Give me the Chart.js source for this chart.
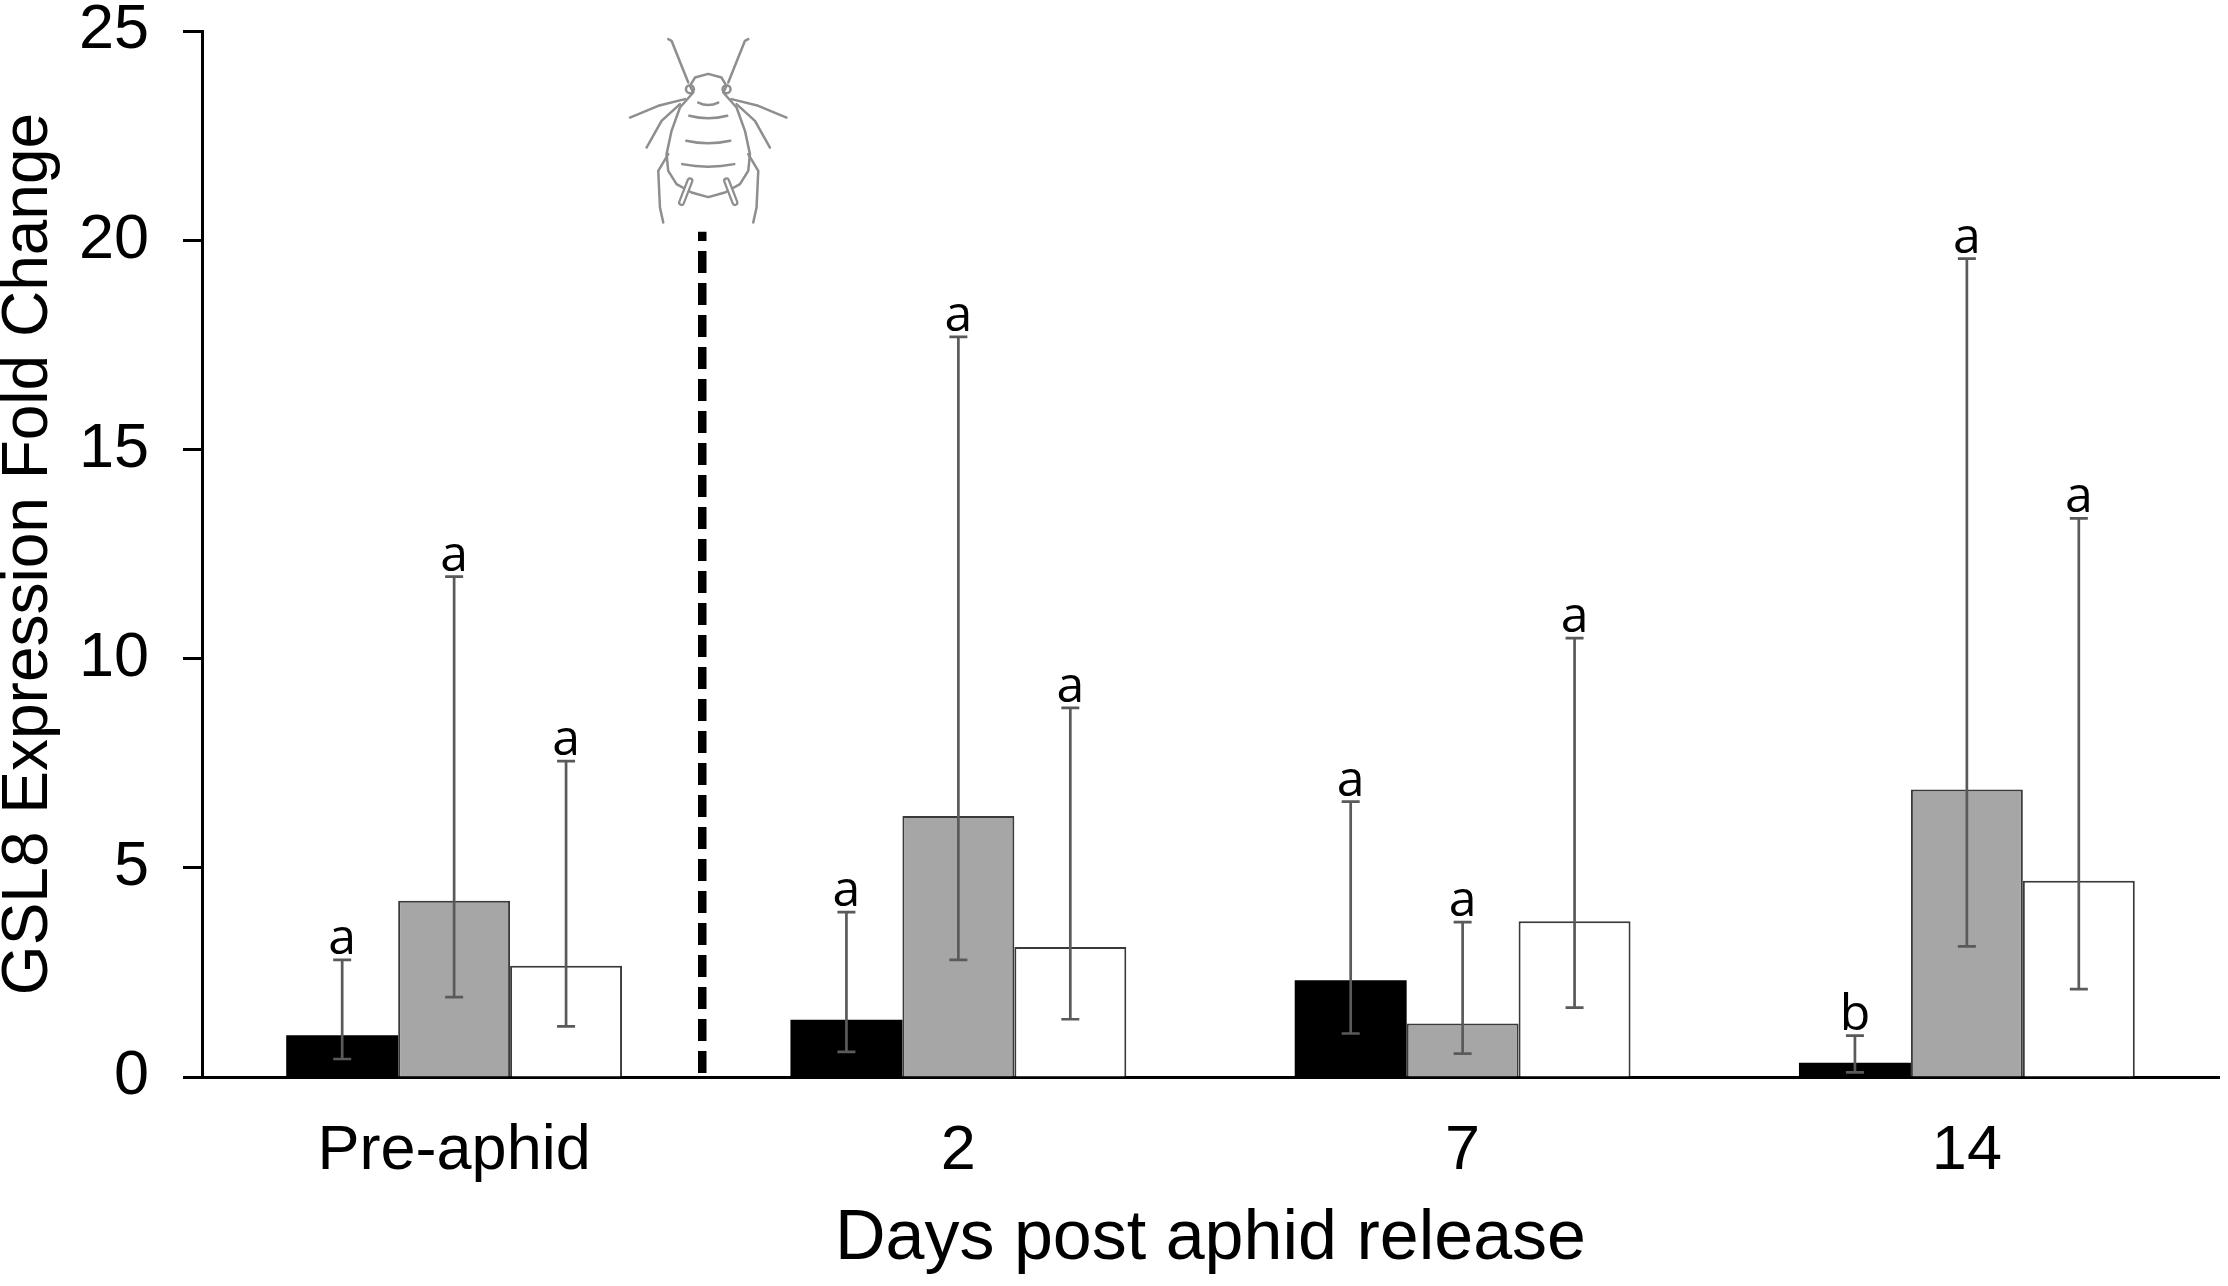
<!DOCTYPE html>
<html><head><meta charset="utf-8">
<script src="https://cdn.jsdelivr.net/npm/chart.js@4"></script>
<style>html,body{margin:0;padding:0;background:#fff;} canvas{display:block}</style>
</head><body>
<canvas id="c" width="2228" height="1286"></canvas>
<script>
// ---- data ----
const categories = ['Pre-aphid', '2', '7', '14'];
const seriesNames = ['Series 1', 'Series 2', 'Series 3'];

const blackValues = [1.00, 1.37, 2.31, 0.34];
const blackLow    = [0.43, 0.60, 1.04, 0.11];
const blackHigh   = [2.80, 3.94, 6.58, 0.99];
const blackLetters = ['a', 'a', 'a', 'b'];

const greyValues = [4.21, 6.24, 1.28, 6.87];
const greyLow    = [1.91, 2.80, 0.56, 3.12];
const greyHigh   = [11.96, 17.69, 3.70, 19.56];
const greyLetters = ['a', 'a', 'a', 'a'];

const whiteValues = [2.66, 3.11, 3.72, 4.69];
const whiteLow    = [1.21, 1.38, 1.66, 2.10];
const whiteHigh   = [7.55, 8.82, 10.49, 13.35];
const whiteLetters = ['a', 'a', 'a', 'a'];

const yMin = 0, yMax = 25, yStep = 5;
const dividerTop = 20.2;
const yTitle = 'GSL8 Expression Fold Change';
const xTitle = 'Days post aphid release';

const errLow = [blackLow, greyLow, whiteLow];
const errHigh = [blackHigh, greyHigh, whiteHigh];
const letters = [blackLetters, greyLetters, whiteLetters];

const AX = '"Liberation Sans", Arial, sans-serif';

const overlay = {
  id: 'overlay',
  afterDatasetsDraw(chart) {
    const ctx = chart.ctx;
    const ys = chart.scales.y, xs = chart.scales.x;
    // error bars
    ctx.save();
    ctx.strokeStyle = '#5a5a5a';
    ctx.lineWidth = 2.7;
    for (let d = 0; d < 3; d++) {
      const meta = chart.getDatasetMeta(d);
      meta.data.forEach((bar, i) => {
        const x = bar.x;
        const yl = ys.getPixelForValue(errLow[d][i]);
        const yh = ys.getPixelForValue(errHigh[d][i]);
        ctx.beginPath();
        ctx.moveTo(x, yl); ctx.lineTo(x, yh);
        ctx.moveTo(x - 9, yl); ctx.lineTo(x + 9, yl);
        ctx.moveTo(x - 9, yh); ctx.lineTo(x + 9, yh);
        ctx.stroke();
        // letter
        ctx.fillStyle = '#000';
        ctx.font = '50px "Open Sans", "Noto Sans", sans-serif';
        ctx.textAlign = 'center';
        ctx.textBaseline = 'alphabetic';
        ctx.fillText(letters[d][i], x, yh - 6);
      });
    }
    ctx.restore();

    // dashed divider
    const dx = (xs.getPixelForValue(0) + xs.getPixelForValue(1)) / 2 - 4;
    const dTop = ys.getPixelForValue(dividerTop);
    const dBot = ys.getPixelForValue(0);
    ctx.save();
    ctx.strokeStyle = '#000';
    ctx.lineWidth = 8.5;
    ctx.setLineDash([22, 10]);
    ctx.beginPath();
    ctx.moveTo(dx, dBot - 4);
    ctx.lineTo(dx, dTop);
    ctx.stroke();
    ctx.restore();

    // aphid drawing (decoration)
    const ox = dx + 6, oy = dTop - 158;
    ctx.save();
    ctx.translate(ox, oy);
    ctx.strokeStyle = '#8e8e8e';
    ctx.lineWidth = 2.5;
    ctx.lineCap = 'round';
    ctx.lineJoin = 'round';
    const side = [[0,0],[-13.3,3.7],[-18.3,12],[-15,18.7],[-28.3,33.7],[-36.7,57],[-41.7,80.3],[-40,97],[-31.7,110.3],[-16.7,118.7],[0,123.3]];
    // body outline
    ctx.beginPath();
    ctx.moveTo(side[0][0], side[0][1]);
    for (let k = 1; k < side.length; k++) ctx.lineTo(side[k][0], side[k][1]);
    for (let k = side.length - 2; k >= 0; k--) ctx.lineTo(-side[k][0], side[k][1]);
    ctx.closePath();
    ctx.fillStyle = '#fff';
    ctx.fill();
    ctx.stroke();
    for (const s of [-1, 1]) {
      // eyes
      ctx.beginPath(); ctx.arc(s * 18.3, 15.3, 4, 0, Math.PI * 2); ctx.stroke();
      // antennae
      ctx.beginPath();
      ctx.moveTo(s * 20, 8.7); ctx.lineTo(s * 36.7, -33); ctx.lineTo(s * 40, -34.7);
      ctx.stroke();
      // front legs
      ctx.beginPath();
      ctx.moveTo(s * 23.3, 25.3); ctx.lineTo(s * 50, 32); ctx.lineTo(s * 78.3, 43.7);
      ctx.stroke();
      // middle legs
      ctx.beginPath();
      ctx.moveTo(s * 28.3, 30.3); ctx.lineTo(s * 46.7, 47); ctx.lineTo(s * 61.7, 73.7);
      ctx.stroke();
      // hind legs
      ctx.beginPath();
      ctx.moveTo(s * 40, 80.3); ctx.lineTo(s * 50, 97); ctx.lineTo(s * 48.3, 133.7); ctx.lineTo(s * 45, 148.7);
      ctx.stroke();
      // cornicles
      ctx.beginPath();
      ctx.moveTo(s * 18.3, 107); ctx.lineTo(s * 26.7, 128.7);
      ctx.lineWidth = 7; ctx.stroke();
      ctx.strokeStyle = '#fff'; ctx.lineWidth = 2.5; ctx.stroke();
      ctx.strokeStyle = '#8e8e8e';
    }
    // segment lines
    const segs = [[28.7, 10], [42, 19], [67, 22], [90.3, 26]];
    for (const [y, w] of segs) {
      ctx.beginPath();
      ctx.moveTo(-w, y); ctx.quadraticCurveTo(0, y + 5, w, y);
      ctx.stroke();
    }
    ctx.restore();
  }
};

new Chart(document.getElementById('c'), {
  type: 'bar',
  data: {
    labels: categories,
    datasets: [
      { label: seriesNames[0], data: blackValues, backgroundColor: '#000000', borderColor: '#000000', borderWidth: 0 },
      { label: seriesNames[1], data: greyValues, backgroundColor: '#a6a6a6', borderColor: '#3a3a3a', borderWidth: 2 },
      { label: seriesNames[2], data: whiteValues, backgroundColor: '#ffffff', borderColor: '#3a3a3a', borderWidth: 2 }
    ]
  },
  options: {
    responsive: false,
    devicePixelRatio: 1,
    animation: false,
    layout: { padding: { left: 0, right: 9, top: 31, bottom: 0 } },
    datasets: { bar: { categoryPercentage: 0.666, barPercentage: 1.0 } },
    plugins: { legend: { display: false }, tooltip: { enabled: false } },
    scales: {
      x: {
        type: 'category',
        offset: true,
        grid: { display: false, drawTicks: false },
        border: { display: true, color: '#000', width: 3 },
        ticks: { color: '#000', font: { family: AX, size: 63 }, padding: 37, maxRotation: 0 },
        title: { display: true, text: xTitle, color: '#000', font: { family: AX, size: 70 }, padding: { top: 0, bottom: 4 } },
        afterFit(s) { s.height = 209; s.paddingLeft = 0; s.paddingRight = 0; }
      },
      y: {
        min: yMin, max: yMax,
        ticks: { stepSize: yStep, color: '#000', font: { family: AX, size: 63 }, padding: 34 },
        grid: { drawOnChartArea: false, drawTicks: true, tickLength: 19, tickColor: '#000', tickWidth: 3, color: '#000' },
        border: { display: true, color: '#000', width: 3 },
        title: { display: true, text: yTitle, color: '#000', font: { family: AX, size: 64, lineHeight: 0.92 }, padding: 0 },
        afterFit(s) { s.width = 202; s.paddingTop = 0; s.paddingBottom = 0; }
      }
    }
  },
  plugins: [overlay]
});
</script></body></html>
